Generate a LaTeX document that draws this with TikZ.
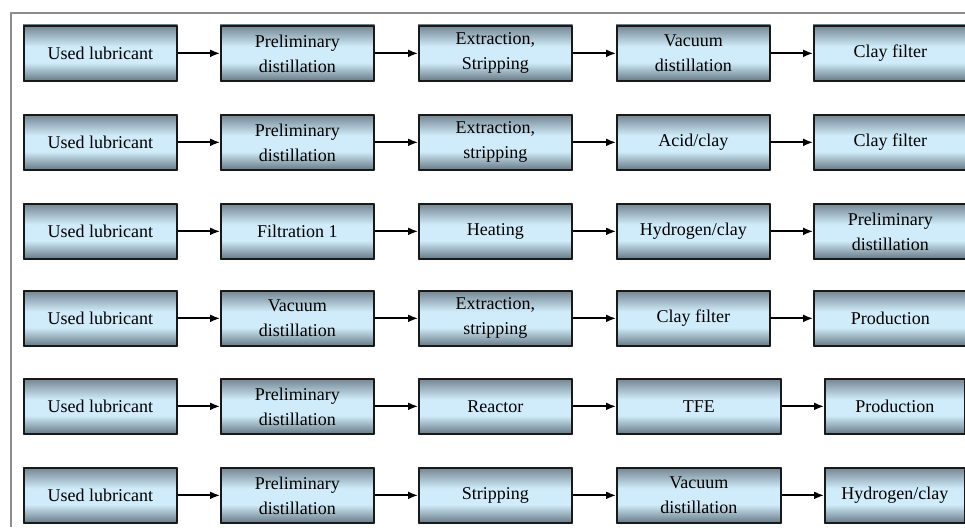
\documentclass[tikz,border=0pt]{standalone}
\usepackage{fontspec}
\setmainfont{Liberation Serif}
\usetikzlibrary{arrows.meta,backgrounds}
\definecolor{boxtop}{RGB}{112,130,142}
\definecolor{boxmid}{RGB}{208,236,250}
\definecolor{boxbot}{RGB}{98,116,128}
\pgfdeclareverticalshading{stageshade}{100bp}{color(0bp)=(boxbot); color(25bp)=(boxbot);
	color(42bp)=(boxmid); color(56bp)=(boxmid); color(75bp)=(boxtop); color(100bp)=(boxtop)}
\begin{document}
\begin{tikzpicture}[x=1pt,y=-1pt,>={Latex[length=10pt,width=8pt]},line join=round]
			\tikzset{stage/.style={anchor=north west,draw=black!90,line width=1.7pt,text=black,
				minimum width=153,minimum height=55,inner sep=0pt,align=center,
				font=\fontsize{18}{25}\selectfont}}
			%%Khung
			\useasboundingbox (0,0) rectangle (965,527);
			\clip (0,0) rectangle (965,527);
			\draw[gray!90,line width=1.3pt] (11,527) |- (965,13);
			%%Hang 1
			\node[stage] (n11) at (23,25) {Used lubricant};
			\node[stage] (n12) at (220,25) {Preliminary\\distillation};
			\node[stage] (n13) at (418,25) {Extraction,\\Stripping};
			\node[stage] (n14) at (616,25) {Vacuum\\distillation};
			\node[stage] (n15) at (813,25) {Clay filter};
			%%Hang 2
			\node[stage] (n21) at (23,114) {Used lubricant};
			\node[stage] (n22) at (220,114) {Preliminary\\distillation};
			\node[stage] (n23) at (418,114) {Extraction,\\stripping};
			\node[stage] (n24) at (616,114) {Acid/clay};
			\node[stage] (n25) at (813,114) {Clay filter};
			%%Hang 3
			\node[stage] (n31) at (23,203) {Used lubricant};
			\node[stage] (n32) at (220,203) {Filtration 1};
			\node[stage] (n33) at (418,203) {Heating};
			\node[stage] (n34) at (616,203) {Hydrogen/clay};
			\node[stage] (n35) at (813,203) {Preliminary\\distillation};
			%%Hang 4
			\node[stage] (n41) at (23,290) {Used lubricant};
			\node[stage] (n42) at (220,290) {Vacuum\\distillation};
			\node[stage] (n43) at (418,290) {Extraction,\\stripping};
			\node[stage] (n44) at (616,290) {Clay filter};
			\node[stage] (n45) at (813,290) {Production};
			%%Hang 5
			\node[stage] (n51) at (23,378) {Used lubricant};
			\node[stage] (n52) at (220,378) {Preliminary\\distillation};
			\node[stage] (n53) at (418,378) {Reactor};
			\node[stage,minimum width=164] (n54) at (616,378) {TFE};
			\node[stage,minimum width=140] (n55) at (824,378) {Production};
			%%Hang 6
			\node[stage] (n61) at (23,467) {Used lubricant};
			\node[stage] (n62) at (220,467) {Preliminary\\distillation};
			\node[stage] (n63) at (418,467) {Stripping};
			\node[stage,minimum width=164] (n64) at (616,467) {Vacuum\\distillation};
			\node[stage,minimum width=140] (n65) at (824,467) {Hydrogen/clay};
			%%To mau nen
			\begin{pgfonlayer}{background}
			\foreach \r in {1,...,6}
			\foreach \c in {1,...,5}
			\shade[shading=stageshade] (n\r\c.north west) rectangle (n\r\c.south east);
			\end{pgfonlayer}
			%%Mui ten
			\foreach \r in {1,...,6}
			\foreach \c/\d in {1/2,2/3,3/4,4/5}
			\draw[->,line width=1.8pt] (n\r\c) -- (n\r\d);
	\end{tikzpicture}
\end{document}
